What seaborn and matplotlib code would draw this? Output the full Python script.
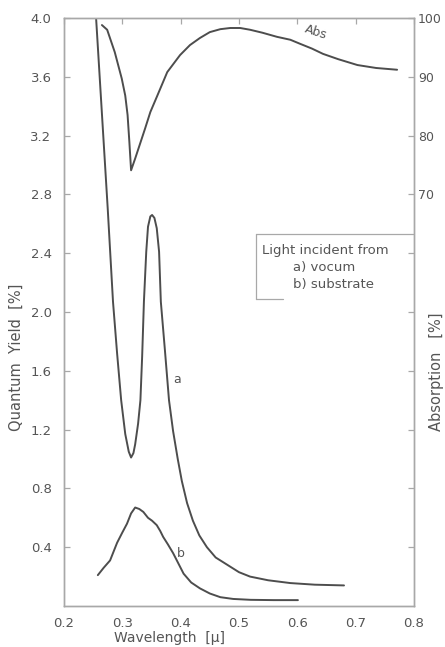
import matplotlib
matplotlib.use("Agg")
import matplotlib.pyplot as plt
import seaborn as sns
import pandas as pd
import numpy as np

# ---- data ----
wl_a = [0.255, 0.265, 0.275, 0.284, 0.291, 0.298, 0.305, 0.311, 0.315, 0.319, 0.322, 0.327,
        0.331, 0.334, 0.337, 0.341, 0.344, 0.348, 0.351, 0.355, 0.359, 0.363, 0.366, 0.373,
        0.380, 0.387, 0.395, 0.402, 0.411, 0.421, 0.432, 0.445, 0.460, 0.480, 0.500, 0.519,
        0.550, 0.588, 0.630, 0.680]
qy_a = [4.00, 3.35, 2.70, 2.07, 1.72, 1.40, 1.17, 1.05, 1.01, 1.04, 1.10, 1.24,
        1.40, 1.70, 2.07, 2.41, 2.58, 2.65, 2.66, 2.64, 2.57, 2.41, 2.07, 1.74,
        1.40, 1.19, 1.00, 0.85, 0.70, 0.58, 0.48, 0.40, 0.33, 0.28, 0.23, 0.20,
        0.175, 0.156, 0.145, 0.14]

wl_b = [0.258, 0.268, 0.279, 0.291, 0.300, 0.308, 0.315, 0.322, 0.329, 0.336, 0.344, 0.351,
        0.359, 0.365, 0.370, 0.378, 0.387, 0.396, 0.405, 0.418, 0.433, 0.450, 0.468, 0.490,
        0.520, 0.560, 0.601]
qy_b = [0.21, 0.26, 0.31, 0.43, 0.50, 0.56, 0.63, 0.67, 0.66, 0.64, 0.60, 0.58,
        0.55, 0.51, 0.47, 0.42, 0.36, 0.29, 0.22, 0.16, 0.12, 0.085, 0.06, 0.048,
        0.042, 0.04, 0.04]

wl_abs = [0.265, 0.274, 0.287, 0.299, 0.305, 0.309, 0.312, 0.315, 0.322, 0.330, 0.339, 0.348,
          0.360, 0.377, 0.399, 0.416, 0.433, 0.450, 0.468, 0.485, 0.502, 0.519, 0.540, 0.565,
          0.588, 0.605, 0.625, 0.644, 0.670, 0.703, 0.735, 0.771]
absorb = [98.8, 98.0, 94.2, 89.7, 86.8, 83.5, 79.0, 74.1, 76.1, 78.5, 81.2, 84.0,
          86.8, 90.8, 93.7, 95.4, 96.6, 97.6, 98.1, 98.3, 98.3, 98.0, 97.5, 96.8,
          96.3, 95.6, 94.8, 93.9, 93.0, 92.0, 91.5, 91.2]

x_ticks = [0.2, 0.3, 0.4, 0.5, 0.6, 0.7, 0.8]
x_labels = ["0.2", "0.3", "0.4", "0.5", "0.6", "0.7", "0.8"]
y_ticks = [0.4, 0.8, 1.2, 1.6, 2.0, 2.4, 2.8, 3.2, 3.6, 4.0]
y_labels = ["0.4", "0.8", "1.2", "1.6", "2.0", "2.4", "2.8", "3.2", "3.6", "4.0"]
r_ticks = [10, 20, 30, 40, 50, 60, 70, 80, 90, 100]
r_labels = ["", "", "", "", "", "", "70", "80", "90", "100"]

legend_lines = ["Light incident from", "a) vocum", "b) substrate"]

# ---- styling ----
sns.set_style("white")
plt.rcParams['font.family'] = ['DejaVu Sans']
line_c = "#4d4d4d"
axis_c = "#a8a8a8"
text_c = "#555555"

fig = plt.figure(figsize=(4.45, 6.47), dpi=100)
ax = fig.add_axes([64/445, 1-606/647, (414-64)/445, (606-18)/647])

df_a = pd.DataFrame({"wl": wl_a, "qy": qy_a})
df_b = pd.DataFrame({"wl": wl_b, "qy": qy_b})
df_abs = pd.DataFrame({"wl": wl_abs, "ab": absorb})

sns.lineplot(data=df_a, x="wl", y="qy", ax=ax, color=line_c, lw=1.4, sort=False, estimator=None)
sns.lineplot(data=df_b, x="wl", y="qy", ax=ax, color=line_c, lw=1.4, sort=False, estimator=None)

ax.set_xlim(0.2, 0.8)
ax.set_ylim(0, 4.0)
ax.set_xticks(x_ticks)
ax.set_xticklabels(x_labels)
ax.set_yticks(y_ticks)
ax.set_yticklabels(y_labels)
ax.tick_params(axis="both", direction="in", length=4, width=0.9, color=axis_c,
               labelcolor=text_c, labelsize=9.5)
ax.tick_params(axis="y", pad=9)
ax.tick_params(axis="x", top=True, pad=8)
for s in ax.spines.values():
    s.set_color(axis_c)
    s.set_linewidth(1.0)
ax.set_xlabel("")
ax.set_ylabel("")

ax2 = ax.twinx()
sns.lineplot(data=df_abs, x="wl", y="ab", ax=ax2, color=line_c, lw=1.4, sort=False, estimator=None)
ax2.set_ylim(0, 100)
ax2.set_yticks(r_ticks)
ax2.set_yticklabels(r_labels)
ax2.tick_params(axis="y", direction="in", length=4, width=0.9, color=axis_c,
                labelcolor=text_c, labelsize=9, pad=3)
for s in ax2.spines.values():
    s.set_color(axis_c)
    s.set_linewidth(1.0)
ax2.set_ylabel("")
ax2.set_xlabel("")

# axis titles
fig.text(16/445, 1-357/647, "Quantum  Yield  [%]", rotation=90, ha="center", va="center",
         color=text_c, fontsize=10.5)
fig.text(170/445, 1-638/647, "Wavelength  [\u03bc]", ha="center", va="center",
         color=text_c, fontsize=10)
fig.text(437/445, 1-372/647, "Absorption   [%]", rotation=90, ha="center", va="center",
         color=text_c, fontsize=10.5)

# curve labels
ax.text(0.394, 1.54, "a", color=text_c, fontsize=9, ha="center", va="center")
ax.text(0.400, 0.36, "b", color=text_c, fontsize=9, ha="center", va="center")
ax.text(0.632, 3.90, "Abs", color=text_c, fontsize=9, ha="center", va="center", rotation=-18)

# legend box
bx0, bx1 = 0.529, 0.8
by0, by1 = 2.09, 2.53
ax.plot([bx0, bx1], [by1, by1], color=axis_c, lw=0.9)
ax.plot([bx0, bx0], [by0, by1], color=axis_c, lw=0.9)
ax.plot([bx0, 0.575], [by0, by0], color=axis_c, lw=0.9)
ax.text(0.540, 2.42, legend_lines[0], color=text_c, fontsize=9.5, ha="left", va="center")
ax.text(0.592, 2.30, legend_lines[1], color=text_c, fontsize=9.5, ha="left", va="center")
ax.text(0.592, 2.19, legend_lines[2], color=text_c, fontsize=9.5, ha="left", va="center")

fig.savefig("out.png", dpi=100)
